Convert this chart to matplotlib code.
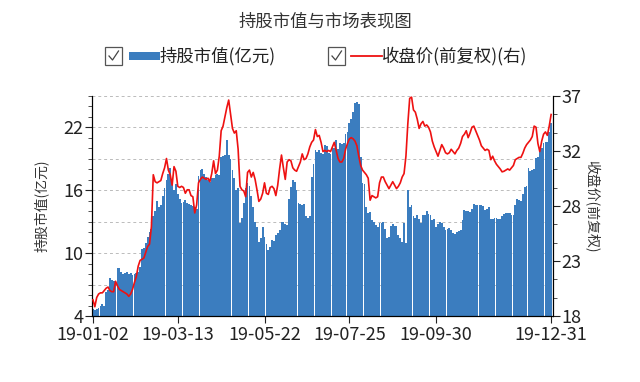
import numpy as np
import matplotlib
matplotlib.use("Agg")
from matplotlib import pyplot as plt
from matplotlib.patches import Rectangle
from matplotlib.lines import Line2D

plt.rcParams['font.family'] = ['Noto Sans CJK SC', 'DejaVu Sans']

# ---------------- data ----------------
title = "持股市值与市场表现图"
bar_name = "持股市值(亿元)"
line_name = "收盘价(前复权)(右)"
left_label = "持股市值(亿元)"
right_label = "收盘价(前复权)"

tick_idx = [0, 45, 91, 136, 182, 243]
tick_labels = ["19-01-02", "19-03-13", "19-05-22", "19-07-25", "19-09-30", "19-12-31"]

# holding market value, 100m yuan (one value per trading day of 2019)
holding = [
    4.7, 4.6, 4.7, 4.8, 5.0, 5.1, 5.0, 6.3, 6.5, 7.6,
    7.4, 7.3, 7.3, 8.6, 8.6, 8.2, 8.0, 8.1, 8.2, 8.0,
    8.1, 7.9, 8.0, 8.1, 8.2, 8.7, 10.4, 10.5, 11.0, 11.5,
    12.0, 12.3, 13.5, 14.0, 15.0, 14.4, 14.6, 15.5, 16.2, 17.0,
    17.6, 18.1, 16.8, 16.0, 16.6, 15.6, 15.2, 14.8, 14.9, 15.1,
    14.8, 14.7, 14.6, 14.5, 14.4, 14.2, 17.4, 17.9, 18.0, 17.6,
    17.3, 17.0, 16.8, 17.2, 17.2, 17.5, 17.6, 17.5, 19.2, 19.3,
    19.4, 20.8, 19.4, 19.0, 17.9, 17.2, 16.0, 16.2, 12.85, 13.4,
    14.8, 16.2, 16.7, 16.4, 15.5, 14.4, 13.0, 12.5, 11.1, 11.4,
    12.5, 11.5, 10.9, 10.3, 10.6, 11.25, 11.2, 11.7, 11.9, 12.2,
    13.0, 13.0, 12.8, 12.7, 15.2, 16.3, 17.0, 16.8, 16.0, 14.8,
    14.7, 14.6, 14.7, 13.5, 13.4, 13.5, 17.3, 18.5, 19.8, 19.7,
    19.8, 19.6, 19.5, 20.3, 20.2, 19.6, 19.5, 20.1, 20.0, 20.8,
    19.9, 20.5, 20.4, 20.5, 21.4, 21.6, 22.4, 22.8, 23.5, 24.3,
    24.4, 24.2, 19.2, 16.7, 16.6, 14.4, 13.8, 13.9, 13.2, 13.0,
    12.7, 12.5, 12.85, 12.9, 13.0, 12.3, 11.4, 11.5, 12.6, 12.75,
    12.6, 12.6, 11.7, 11.4, 11.1, 12.85, 11.0, 16.0, 14.4, 14.6,
    13.5, 13.4, 13.6, 13.3, 12.9, 13.6, 13.6, 14.0, 13.7, 13.6,
    13.2, 13.3, 12.5, 12.8, 13.0, 12.85, 12.5, 12.2, 12.3, 12.4,
    12.2, 11.9, 11.8, 12.0, 12.1, 12.2, 13.2, 14.1, 14.0, 14.0,
    13.9, 14.2, 14.66, 14.6, 14.6, 14.6, 14.6, 14.5, 14.1, 14.2,
    14.4, 13.3, 13.3, 13.4, 13.4, 13.3, 13.3, 13.5, 13.7, 13.8,
    13.8, 13.8, 13.6, 13.6, 14.6, 15.2, 15.1, 15.0, 15.65, 16.3,
    16.4, 18.1, 17.8, 17.9, 18.0, 19.05, 19.2, 19.85, 20.0, 20.5,
    20.6, 20.6, 21.6, 22.4,
]

# close price (forward adjusted), right axis
close = [
    19.4, 18.8, 19.6, 19.9, 20.0, 20.0, 20.2, 20.4, 20.5, 20.2,
    20.1, 20.1, 21.0, 20.6, 20.3, 20.2, 20.1, 20.0, 19.9, 19.7,
    19.9, 20.3, 20.9, 21.4, 22.3, 22.8, 22.9, 23.0, 23.5, 24.0,
    24.2, 25.7, 30.2, 29.6, 29.5, 29.6, 29.7, 30.3, 30.8, 31.6,
    30.6, 30.2, 29.3, 30.9, 30.5, 29.2, 29.1, 29.2, 29.1, 28.6,
    28.9, 28.9, 28.4, 28.3, 26.9, 27.6, 29.5, 29.8, 30.0, 29.9,
    29.8, 29.9, 29.6, 30.3, 31.4, 30.3, 30.6, 31.8, 34.0, 34.4,
    35.2, 36.0, 36.65, 35.4, 34.2, 33.8, 34.0, 32.4, 29.2, 28.9,
    28.8, 28.3, 30.4, 30.6, 30.0, 30.4, 29.8, 28.9, 27.9, 28.1,
    28.6, 29.5, 28.6, 28.5, 29.1, 29.2, 29.0, 28.4, 29.3, 30.7,
    31.9, 30.8, 29.8, 31.3, 31.5, 31.4, 30.8, 30.6, 30.5, 30.9,
    31.3, 32.0, 31.5, 31.6, 32.0, 32.6, 33.0, 33.2, 34.1, 33.5,
    33.6, 33.0, 32.2, 32.3, 32.2, 32.3, 32.2, 32.6, 33.0, 32.3,
    31.6, 31.3, 31.3, 31.6, 32.4, 32.9, 33.3, 33.4, 33.3, 33.1,
    32.7, 31.8, 31.0, 30.6, 30.4, 30.2, 29.9, 28.0, 28.4, 28.3,
    28.2, 28.3, 29.5, 30.0, 30.0, 29.6, 29.3, 29.0, 29.3, 29.6,
    29.3, 29.0, 29.2, 29.5, 30.0, 30.3, 31.8, 34.6, 36.8, 36.9,
    35.8, 35.6, 35.0, 34.2, 34.6, 34.8, 34.4, 34.5, 34.3, 33.9,
    33.1, 32.6, 32.2, 31.8, 32.3, 32.8, 32.5, 32.1, 32.0, 32.1,
    32.4, 32.2, 32.0, 32.3, 32.5, 32.9, 33.5, 33.7, 34.0, 33.4,
    33.8, 34.3, 34.4, 34.0, 33.6, 33.2, 32.7, 32.5, 32.3, 32.4,
    32.3, 31.5, 31.8, 31.4, 31.1, 30.9, 30.7, 30.45, 30.5, 30.6,
    30.7, 30.6, 30.8, 31.0, 31.5, 31.6, 31.7, 31.7, 32.05, 32.5,
    32.8, 33.0, 33.2, 33.5, 34.4, 34.3, 32.9, 32.2, 33.1, 33.7,
    33.9, 33.6, 34.4, 35.4,
]

BLUE = "#3b7dbf"
RED = "#ee1111"
W, H = 640, 382


def fx(px):
    return px / W


def fy(py):
    return 1 - py / H


fig = plt.figure(figsize=(6.4, 3.82), dpi=100)
ax = fig.add_axes([fx(92), fy(316), fx(553) - fx(92), fy(96) - fy(316)])
ax2 = ax.twinx()

x = np.arange(len(holding))
ax.bar(x, holding, width=0.95, color=BLUE, linewidth=0, antialiased=False, zorder=2)
ax2.plot(x, close, color=RED, linewidth=1.2, zorder=3)

ax.set_xlim(-0.5, len(holding))
ax.set_ylim(4, 25)
ax2.set_ylim(18, 37)

# dashed grid every 3 units on the left scale
for g in range(7, 26, 3):
    ax.axhline(g, color="#bbbbbb", linewidth=0.7, linestyle=(0, (3, 3)), zorder=1)

ax.set_yticks([4, 10, 16, 22])
ax.set_yticks(np.arange(4, 26, 1), minor=True)
rt = np.linspace(18, 37, 5)
ax2.set_yticks(rt)
ax2.set_yticklabels([f"{v:.0f}" for v in rt])
ax2.set_yticks(np.linspace(18, 37, 13), minor=True)

ax.set_xticks(tick_idx)
ax.set_xticklabels(tick_labels)

for a in (ax, ax2):
    a.spines['top'].set_visible(False)
    a.tick_params(axis='both', which='major', labelsize=13, length=5, width=0.8,
                  colors="#222222", pad=1)
    a.tick_params(axis='y', which='minor', length=3, width=0.6, colors="#333333")
ax.tick_params(axis='x', pad=2)
ax.set_facecolor("none")
ax2.set_zorder(ax.get_zorder() + 1)

fig.text(fx(41), fy(206), left_label, rotation=90, ha='center', va='center',
         fontsize=10, color="#333333")
fig.text(fx(591), fy(206), right_label, rotation=270, ha='center', va='center',
         fontsize=10, color="#333333")

fig.text(fx(325), fy(21), title, ha='center', va='center', fontsize=12.5, color="#333333")


# legend with checkboxes
def checkbox(x0, yc):
    fig.add_artist(Rectangle((fx(x0), fy(yc + 8.5)), fx(17), fy(0) - fy(17),
                             facecolor="white", edgecolor="#555555", linewidth=0.9))
    fig.add_artist(Line2D([fx(x0 + 4), fx(x0 + 7.5), fx(x0 + 13.5)],
                          [fy(yc), fy(yc + 4), fy(yc - 5)], color="#444444", linewidth=0.9))


ly = 56
checkbox(105, ly)
fig.add_artist(Rectangle((fx(129), fy(ly + 4)), fx(31), fy(0) - fy(8),
                         facecolor=BLUE, edgecolor="none"))
fig.text(fx(160), fy(ly), bar_name, ha='left', va='center', fontsize=12.5, color="#222222")
checkbox(328, ly)
fig.add_artist(Line2D([fx(351), fx(382)], [fy(ly), fy(ly)], color=RED, linewidth=1.3))
fig.text(fx(382), fy(ly), line_name, ha='left', va='center', fontsize=12.5, color="#222222")

fig.savefig("out.png", dpi=100)
